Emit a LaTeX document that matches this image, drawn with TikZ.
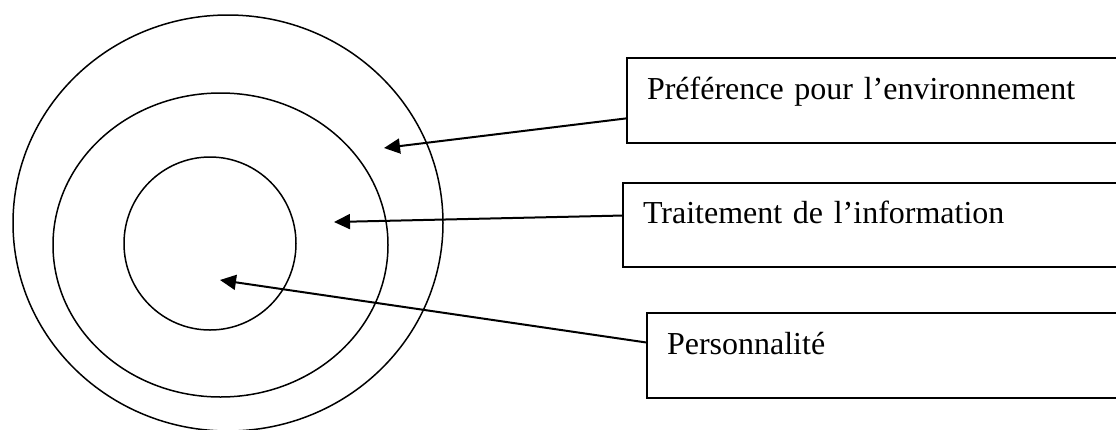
\documentclass[tikz,border=0pt]{standalone}
\usepackage{fontspec}
\setmainfont{Liberation Serif}
\usetikzlibrary{arrows.meta,calc}
\begin{document}
\begin{tikzpicture}[x=1pt,y=-1pt,
  ring/.style={line width=1.5pt},
  labelbox/.style={draw, line width=2pt, anchor=north west, minimum width=540pt,
    text width=500pt, align=left, inner xsep=20pt, inner ysep=0pt,
    text height=20pt, text depth=23pt, font=\fontsize{32}{38}\selectfont},
  pointer/.style={line width=2pt, -{Triangle[length=16pt,width=15pt]}}]
\useasboundingbox (0,0) rectangle (1116,429);
\clip (0,0) rectangle (1116,429);
% concentric rings
\draw[ring] (228,223) ellipse [x radius=215, y radius=208];
\draw[ring] (220.5,245) ellipse [x radius=167.5, y radius=152];
\draw[ring] (210,243.5) ellipse [x radius=86, y radius=86.5];
% boxes
\node[labelbox, minimum height=85pt] (b1) at (626,57) {Préférence pour l’environnement};
\node[labelbox, minimum height=84pt] (b2) at (622,182) {Traitement de l’information};
\node[labelbox, minimum height=85pt] (b3) at (646,312) {Personnalité};
% arrow tips
\coordinate (t1) at (384,148);
\coordinate (t2) at (334,222);
\coordinate (t3) at (220,280);
\draw[pointer] ($(b1.north west)!0.706!(b1.south west)$) -- (t1);
\draw[pointer] ($(b2.north west)!0.39!(b2.south west)$) -- (t2);
\draw[pointer] ($(b3.north west)!0.35!(b3.south west)$) -- (t3);
\end{tikzpicture}
\end{document}
